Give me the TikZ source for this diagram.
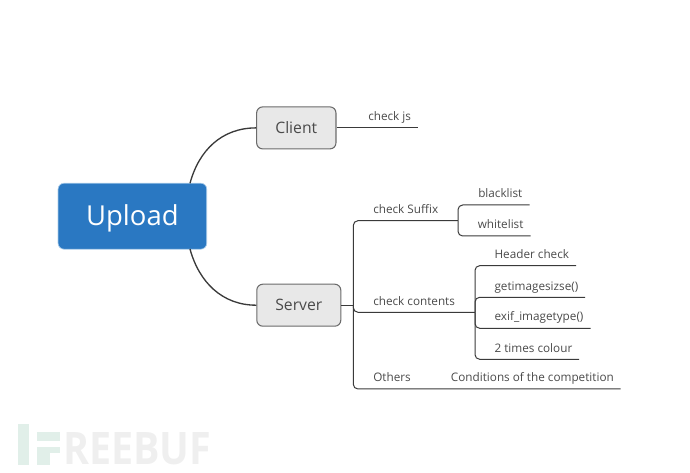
\documentclass[tikz,border=0pt]{standalone}
\usepackage{fontspec}
\setmainfont{Open Sans}
\newfontfamily\markfont[FakeStretch=0.88]{Open Sans}
\definecolor{rootblue}{HTML}{2A78C2}
\definecolor{rootedge}{HTML}{A9CBE9}
\definecolor{mainfill}{HTML}{E8E8E8}
\definecolor{mainedge}{HTML}{6B6B6B}
\definecolor{linkdark}{HTML}{3A3A3A}
\definecolor{inkgrey}{HTML}{4A4A4A}
\definecolor{markgreen}{HTML}{E1EFE9}
\definecolor{markgrey}{HTML}{EFEFEF}
\tikzset{
  px/.style={x=0.75pt,y=-0.75pt},
  rootbox/.style={draw=rootedge,fill=rootblue,rounded corners=4.5pt,line width=0.5pt,text=white,
    inner sep=0pt,minimum width=111.5pt,minimum height=49.5pt,text height=14.6pt,text depth=0pt,
    font=\fontsize{20.6}{24}\selectfont},
  mainbox/.style={draw=mainedge,fill=mainfill,rounded corners=4.5pt,line width=0.8pt,text=inkgrey,
    inner sep=0pt,minimum height=31.5pt,font=\fontsize{11.8}{14}\selectfont},
  leaf/.style={anchor=base west,inner sep=0pt,yshift=-0.6pt,text=inkgrey,font=\fontsize{8.8}{10}\selectfont},
  curvelink/.style={draw=linkdark,line width=1pt},
  branch/.style={draw=linkdark,line width=0.75pt,rounded corners=3.5pt},
  wmbox/.style={fill=markgreen,draw=none},
}
\begin{document}
\begin{tikzpicture}[px]
\useasboundingbox (0,0) rectangle (690,473);
% watermark
\fill[wmbox] (18,424) rectangle (29,465);
\fill[wmbox] (37,432) rectangle (60,441);
\fill[wmbox] (37,447) rectangle (60,453);
\fill[wmbox] (37,453) rectangle (50,465);
\node[anchor=base west,inner sep=0pt,text=markgrey] (mark) at (63,465)
  {\markfont\fontsize{33.6}{36}\selectfont\bfseries REEBUF};
% main nodes
\node[rootbox] (upload) at (132.4,216.2) {Upload};
\node[mainbox,minimum width=59.5pt] (client) at (296.3,127.9) {Client};
\node[mainbox,minimum width=63pt] (server) at (298.8,305.2) {Server};
% labels
\node[leaf] (js) at (368,120) {check js};
\node[leaf] (suffix) at (373,212.7) {check Suffix};
\node[leaf] (black) at (478,196.7) {blacklist};
\node[leaf] (white) at (477.5,228) {whitelist};
\node[leaf] (contents) at (373,305) {check contents};
\node[leaf] (header) at (494.3,257.7) {Header check};
\node[leaf] (getsize) at (494.3,289.3) {getimagesizse()};
\node[leaf] (exif) at (494.3,320) {exif\_imagetype()};
\node[leaf] (twice) at (494.3,351.7) {2 times colour};
\node[leaf] (others) at (373,381) {Others};
\node[leaf] (cond) at (450.7,381) {Conditions of the competition};
% joints and free ends
\coordinate (upA) at (190,183.3);
\coordinate (upB) at (190,249);
\coordinate (jsEnd) at (417.7,127.9);
\coordinate (trunk) at (353.3,305.2);
\coordinate (suffixJ) at (458,220.7);
\coordinate (blackEnd) at (529.5,205);
\coordinate (whiteEnd) at (530.5,236);
\coordinate (contentsJ) at (475,312.3);
\coordinate (headerEnd) at (576,265.7);
\coordinate (sizeEnd) at (585,297.3);
\coordinate (exifEnd) at (590.7,328.3);
\coordinate (twiceEnd) at (579,359.3);
\coordinate (othersEnd) at (620.7,389);
% connectors
\draw[curvelink] (upA) .. controls (199,150) and (222,127.9) .. (client.west);
\draw[curvelink] (upB) .. controls (199,282) and (222,305.2) .. (server.west);
\draw[branch] (client.east) -- (jsEnd);
\draw[branch] (server.east) -- (trunk);
\draw[branch] (trunk) |- (suffixJ);
\draw[branch] (trunk) |- (contentsJ);
\draw[branch] (trunk) |- (othersEnd);
\draw[branch] (suffixJ) |- (blackEnd);
\draw[branch] (suffixJ) |- (whiteEnd);
\draw[branch] (contentsJ) |- (headerEnd);
\draw[branch] (contentsJ) |- (sizeEnd);
\draw[branch] (contentsJ) |- (exifEnd);
\draw[branch] (contentsJ) |- (twiceEnd);
\end{tikzpicture}
\end{document}
